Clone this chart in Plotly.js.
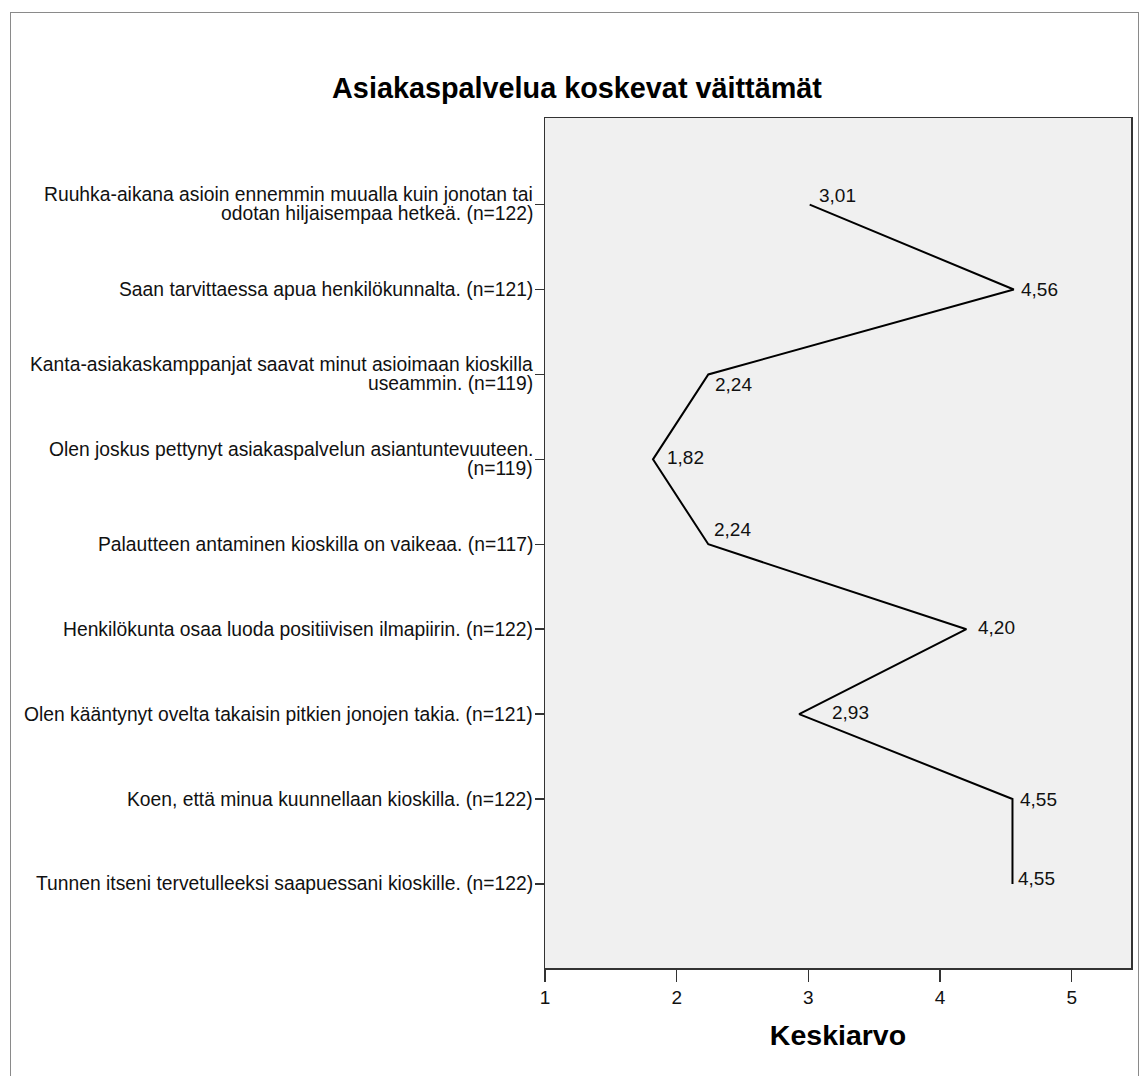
<!DOCTYPE html>
<html>
<head>
<meta charset="utf-8">
<script src="https://cdn.plot.ly/plotly-3.0.1.min.js"></script>
<style>
  html, body { margin: 0; padding: 0; background: #fff; overflow: hidden; }
  #wrap { position: relative; width: 1142px; height: 1076px; }
  #chart { position: absolute; left: 0; top: 0; width: 1142px; height: 1076px; }
  #frame { position: absolute; left: 10px; top: 12px; width: 1129px; height: 1100px;
           border: 1.5px solid #8a8a8a; pointer-events: none; box-sizing: border-box; }
</style>
</head>
<body>
<div id="wrap">
  <div id="chart"></div>
  <div id="frame"></div>
</div>
<script>
// ---- data ----
const categories = [
  "Ruuhka-aikana asioin ennemmin muualla kuin jonotan tai\nodotan hiljaisempaa hetkeä. (n=122)",
  "Saan tarvittaessa apua henkilökunnalta. (n=121)",
  "Kanta-asiakaskamppanjat saavat minut asioimaan kioskilla\nuseammin. (n=119)",
  "Olen joskus pettynyt asiakaspalvelun asiantuntevuuteen.\n(n=119)",
  "Palautteen antaminen kioskilla on vaikeaa. (n=117)",
  "Henkilökunta osaa luoda positiivisen ilmapiirin. (n=122)",
  "Olen kääntynyt ovelta takaisin pitkien jonojen takia. (n=121)",
  "Koen, että minua kuunnellaan kioskilla. (n=122)",
  "Tunnen itseni tervetulleeksi saapuessani kioskille. (n=122)"
];
const means = [3.01, 4.56, 2.24, 1.82, 2.24, 4.20, 2.93, 4.55, 4.55];
const xTicks = [1, 2, 3, 4, 5];
const chartTitle = "Asiakaspalvelua koskevat väittämät";
const xTitle = "Keskiarvo";

// ---- label placement (style only) ----
const labelShift = [[7, 9], [5, 0], [5, -10], [12, 2], [4, 15], [10, 2], [31, 2], [6, 0], [4, 5]];

const FONT = "Liberation Sans, Arial, sans-serif";
const idx = categories.map((_, i) => i);

const trace = {
  type: "scatter",
  mode: "lines",
  x: means,
  y: idx,
  line: { color: "#000", width: 2 },
  hoverinfo: "x+y",
  showlegend: false
};

const annotations = [];
categories.forEach((c, i) => {
  const lines = c.split("\n");
  lines.forEach((ln, k) => {
    annotations.push({
      xref: "paper", yref: "y", x: 0, y: i,
      text: ln, showarrow: false,
      xanchor: "right", yanchor: "middle",
      xshift: -10, yshift: lines.length > 1 ? (k === 0 ? 10 : -9) : 0,
      font: { family: FONT, size: 19.3, color: "#111" }
    });
  });
});
means.forEach((v, i) => {
  annotations.push({
    xref: "x", yref: "y", x: v, y: i,
    text: v.toFixed(2).replace(".", ","), showarrow: false,
    xanchor: "left", yanchor: "middle",
    xshift: labelShift[i][0], yshift: labelShift[i][1],
    font: { family: FONT, size: 19, color: "#111" }
  });
});

const layout = {
  width: 1142, height: 1076,
  margin: { l: 545, r: 11, t: 118, b: 108 },
  paper_bgcolor: "rgba(0,0,0,0)",
  plot_bgcolor: "#f0f0f0",
  title: {
    text: "<b>" + chartTitle + "</b>",
    font: { family: FONT, size: 28.8, color: "#000" },
    xref: "container", x: 577 / 1142, xanchor: "center",
    yref: "container", y: 1 - 88 / 1076, yanchor: "middle"
  },
  xaxis: {
    range: [1, 5.45],
    tickvals: xTicks,
    ticktext: xTicks.map(String),
    ticks: "outside", ticklen: 12, tickwidth: 1.5, tickcolor: "#333",
    showline: true, mirror: true, linecolor: "#333", linewidth: 1.5,
    showgrid: false, zeroline: false,
    tickfont: { family: FONT, size: 19, color: "#111" },
    title: { text: "<b>" + xTitle + "</b>", font: { family: FONT, size: 28.5, color: "#000" }, standoff: 18 }
  },
  yaxis: {
    range: [8.99, -1.02],
    tickvals: idx,
    ticks: "outside", ticklen: 9, tickwidth: 1.5, tickcolor: "#333",
    showticklabels: false,
    showline: true, mirror: true, linecolor: "#333", linewidth: 1.5,
    showgrid: false, zeroline: false
  },
  annotations: annotations
};

Plotly.newPlot("chart", [trace], layout, { displayModeBar: false, staticPlot: true });
</script>
</body>
</html>
